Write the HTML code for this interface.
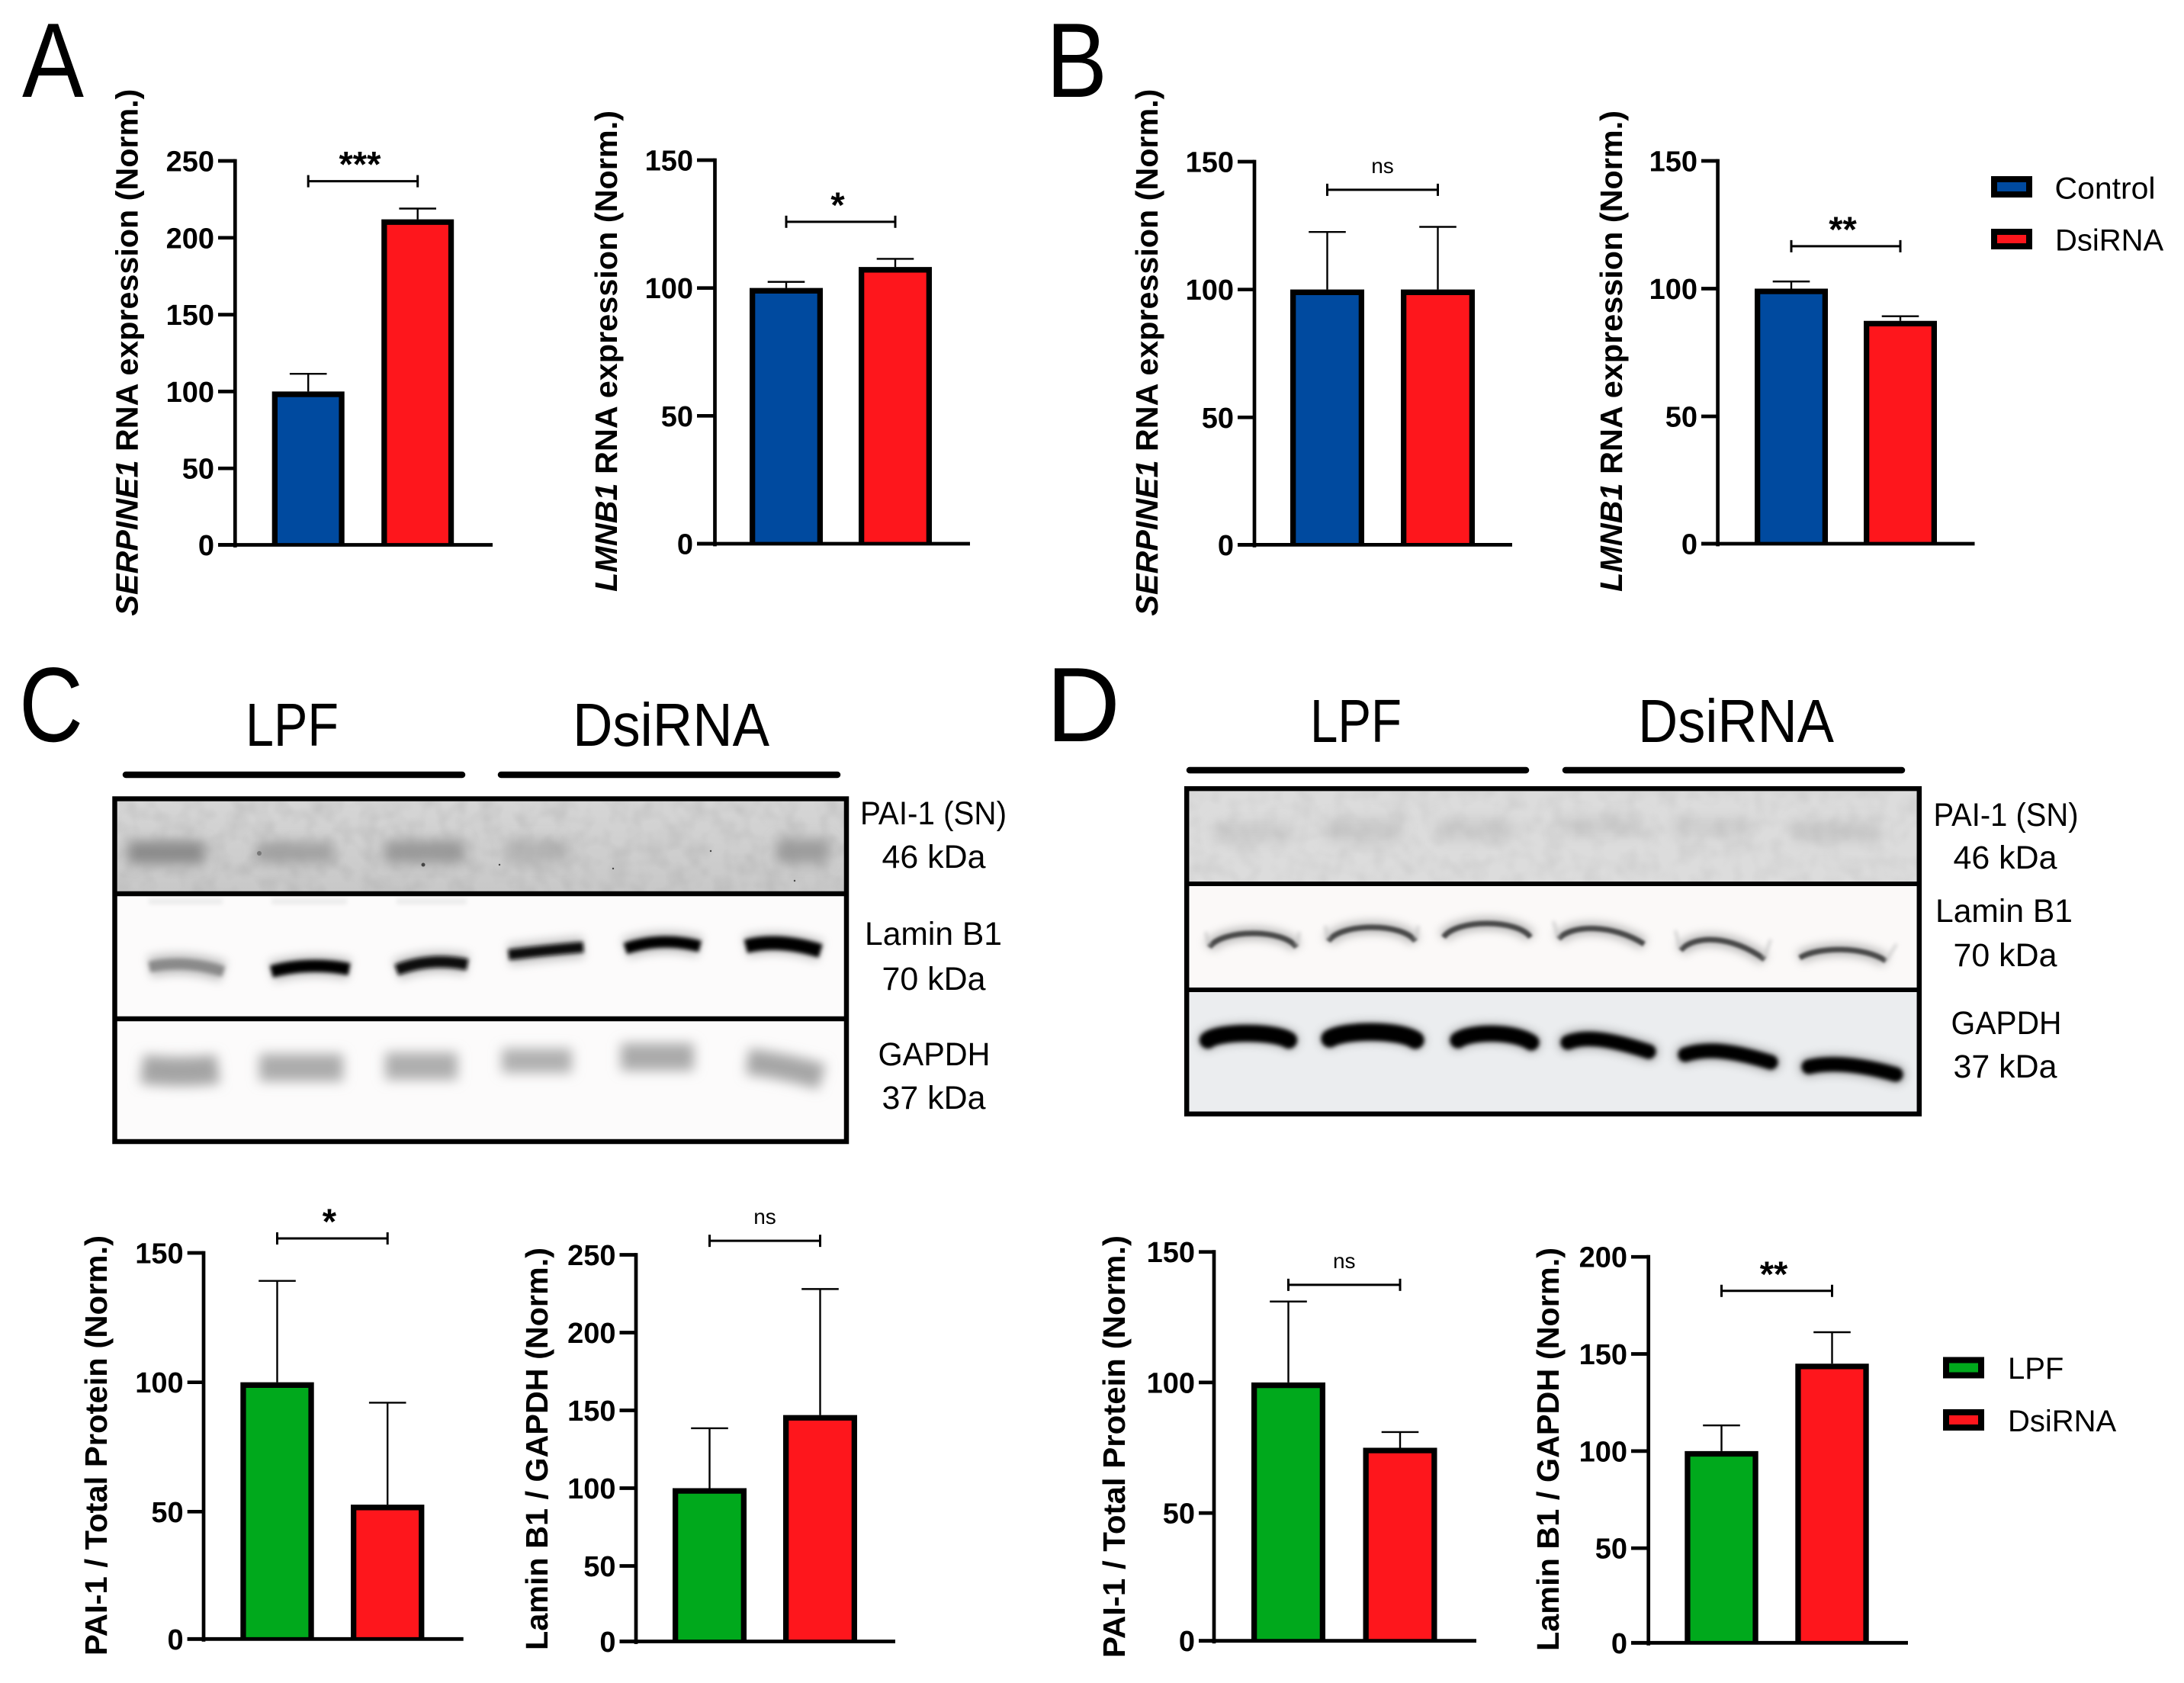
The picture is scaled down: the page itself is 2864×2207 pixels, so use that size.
<!DOCTYPE html>
<html lang="en">
<head>
<meta charset="utf-8">
<title>SERPINE1 and Lamin B1 expression figure</title>
<style>
html,body{margin:0;padding:0;background:#fff;}
svg{display:block;font-family:"Liberation Sans",Arial,sans-serif;}
.ttl{font-weight:bold;font-size:41px;fill:#000;}
.lbl{font-size:43px;fill:#000;text-anchor:middle;}
.grp{font-size:80px;fill:#000;}
.ltr{font-size:139px;fill:#000;}
.leg{font-size:40px;fill:#000;}
</style>
</head>
<body>
<svg id="figure" xmlns="http://www.w3.org/2000/svg" width="2864" height="2207" viewBox="0 0 2864 2207">
<defs>
<filter id="b1" filterUnits="userSpaceOnUse" x="0" y="1000" width="2864" height="520"><feGaussianBlur stdDeviation="1.6"/></filter>
<filter id="b2" filterUnits="userSpaceOnUse" x="0" y="1000" width="2864" height="520"><feGaussianBlur stdDeviation="2.6"/></filter>
<filter id="b6" filterUnits="userSpaceOnUse" x="0" y="1000" width="2864" height="520"><feGaussianBlur stdDeviation="6"/></filter>
<filter id="b8" filterUnits="userSpaceOnUse" x="0" y="1000" width="2864" height="520"><feGaussianBlur stdDeviation="8"/></filter>
<filter id="mottle" x="0" y="0" width="100%" height="100%"><feTurbulence type="fractalNoise" baseFrequency="0.04" numOctaves="2" seed="3"/><feColorMatrix type="matrix" values="0 0 0 0 0.3  0 0 0 0 0.3  0 0 0 0 0.3  1.2 0 0 0 -0.45"/></filter>
<linearGradient id="paiC" x1="0" y1="0" x2="0" y2="1"><stop offset="0" stop-color="#d6d6d6"/><stop offset="1" stop-color="#c8c8c8"/></linearGradient>
</defs>
<rect width="2864" height="2207" fill="#fff"/>

<text class="ltr" x="29" y="127" textLength="81" lengthAdjust="spacingAndGlyphs">A</text>
<text class="ltr" x="1372" y="127" textLength="80" lengthAdjust="spacingAndGlyphs">B</text>
<text class="ltr" x="25" y="972" textLength="84" lengthAdjust="spacingAndGlyphs">C</text>
<text class="ltr" x="1372" y="972" textLength="97" lengthAdjust="spacingAndGlyphs">D</text>

<text class="ttl" transform="translate(180.7 807.6) rotate(-90)" textLength="691" lengthAdjust="spacingAndGlyphs"><tspan font-style="italic">SERPINE1</tspan> RNA expression (Norm.)</text>
<text class="ttl" transform="translate(809 776) rotate(-90)" textLength="631" lengthAdjust="spacingAndGlyphs"><tspan font-style="italic">LMNB1</tspan> RNA expression (Norm.)</text>
<text class="ttl" transform="translate(1518 807.6) rotate(-90)" textLength="691" lengthAdjust="spacingAndGlyphs"><tspan font-style="italic">SERPINE1</tspan> RNA expression (Norm.)</text>
<text class="ttl" transform="translate(2127 776) rotate(-90)" textLength="631" lengthAdjust="spacingAndGlyphs"><tspan font-style="italic">LMNB1</tspan> RNA expression (Norm.)</text>
<text class="ttl" transform="translate(140 2171) rotate(-90)" textLength="551" lengthAdjust="spacingAndGlyphs">PAI-1 / Total Protein (Norm.)</text>
<text class="ttl" transform="translate(718 2164) rotate(-90)" textLength="528" lengthAdjust="spacingAndGlyphs">Lamin B1 / GAPDH (Norm.)</text>
<text class="ttl" transform="translate(1475 2174) rotate(-90)" textLength="554" lengthAdjust="spacingAndGlyphs">PAI-1 / Total Protein (Norm.)</text>
<text class="ttl" transform="translate(2044 2165) rotate(-90)" textLength="529" lengthAdjust="spacingAndGlyphs">Lamin B1 / GAPDH (Norm.)</text>

<g>
<rect x="2615" y="235" width="46" height="20" fill="#004a9f" stroke="#000" stroke-width="8"/>
<text class="leg" x="2694.5" y="260.5" textLength="132" lengthAdjust="spacingAndGlyphs">Control</text>
<rect x="2615" y="304" width="46" height="19" fill="#fe161c" stroke="#000" stroke-width="8"/>
<text class="leg" x="2695" y="328.3">DsiRNA</text>
</g>
<g>
<rect x="2552" y="1783.5" width="46" height="20" fill="#00a91c" stroke="#000" stroke-width="8"/>
<text class="leg" x="2633" y="1808">LPF</text>
<rect x="2552" y="1852" width="46" height="20" fill="#fe161c" stroke="#000" stroke-width="8"/>
<text class="leg" x="2633" y="1877">DsiRNA</text>
</g>

<g>
<text class="grp" x="322" y="978" textLength="122" lengthAdjust="spacingAndGlyphs">LPF</text>
<text class="grp" x="751" y="978" textLength="258" lengthAdjust="spacingAndGlyphs">DsiRNA</text>
<line x1="165" y1="1016" x2="606" y2="1016" stroke="#000" stroke-width="8.5" stroke-linecap="round"/>
<line x1="657" y1="1016" x2="1098" y2="1016" stroke="#000" stroke-width="8.5" stroke-linecap="round"/>
<rect x="154" y="1051" width="953" height="118" fill="url(#paiC)"/>
<rect x="154" y="1175" width="953" height="158" fill="#fcfbfb"/>
<rect x="154" y="1339" width="953" height="155" fill="#fcfbfb"/>
<g filter="url(#b8)" fill="none">
<path d="M168 1118H268" stroke="#8a8a8a" stroke-width="30"/>
<path d="M336 1118H436" stroke="#a2a2a2" stroke-width="28"/>
<path d="M504 1117H610" stroke="#9a9a9a" stroke-width="30"/>
<path d="M664 1116H746" stroke="#b4b4b4" stroke-width="30"/>
<path d="M1018 1116H1086" stroke="#9c9c9c" stroke-width="32"/>
</g>
<rect x="154" y="1051" width="953" height="118" filter="url(#mottle)" opacity=".4"/>
<g fill="#444">
<circle cx="555" cy="1134" r="2.5"/><circle cx="340" cy="1119" r="3" fill="#777"/><circle cx="655" cy="1134" r="1.2"/><circle cx="804" cy="1139" r="1.2"/><circle cx="932" cy="1116" r="1.2"/><circle cx="1042" cy="1155" r="1.2"/>
</g>
<g filter="url(#b2)" stroke="#ececec" stroke-width="8" fill="none">
<path d="M195 1182H292"/><path d="M356 1182H455"/><path d="M520 1182H612"/>
</g>
<g filter="url(#b6)" fill="none" stroke="#8a8a8a" stroke-width="28" opacity=".5">
<path d="M196 1268Q243 1258 293 1274"/><path d="M356 1274Q406 1261 458 1271"/><path d="M520 1272Q565 1255 613 1265"/><path d="M667 1252Q716 1246 765 1242"/><path d="M820 1244Q868 1228 918 1241"/><path d="M978 1241Q1020 1230 1076 1247"/>
</g>
<g filter="url(#b2)" fill="none">
<path d="M196 1268Q243 1258 293 1274" stroke="#8a8a8a" stroke-width="14"/>
<path d="M356 1274Q406 1261 458 1271" stroke="#060606" stroke-width="16"/>
<path d="M520 1272Q565 1255 613 1265" stroke="#0c0c0c" stroke-width="15"/>
<path d="M667 1252Q716 1246 765 1242" stroke="#0c0c0c" stroke-width="14"/>
<path d="M820 1244Q868 1228 918 1241" stroke="#060606" stroke-width="15"/>
<path d="M978 1241Q1020 1230 1076 1247" stroke="#000" stroke-width="18"/>
</g>
<g filter="url(#b8)" fill="none">
<path d="M186 1402Q237 1408 286 1402" stroke="#a4a4a4" stroke-width="38"/>
<path d="M340 1400H450" stroke="#acacac" stroke-width="36"/>
<path d="M505 1398H600" stroke="#aeaeae" stroke-width="36"/>
<path d="M658 1391H750" stroke="#b0b0b0" stroke-width="32"/>
<path d="M814 1386H910" stroke="#aaaaaa" stroke-width="36"/>
<path d="M980 1392Q1030 1398 1078 1412" stroke="#a6a6a6" stroke-width="34"/>
</g>
<rect x="150.5" y="1047.5" width="959.5" height="449.5" fill="none" stroke="#000" stroke-width="6.5"/>
<line x1="150" y1="1172" x2="1110" y2="1172" stroke="#000" stroke-width="6.5"/>
<line x1="150" y1="1336" x2="1110" y2="1336" stroke="#000" stroke-width="6.5"/>
<text class="lbl" x="1224" y="1081" textLength="192" lengthAdjust="spacingAndGlyphs">PAI-1 (SN)</text>
<text class="lbl" x="1224.5" y="1138" textLength="136" lengthAdjust="spacingAndGlyphs">46 kDa</text>
<text class="lbl" x="1224" y="1239" textLength="180" lengthAdjust="spacingAndGlyphs">Lamin B1</text>
<text class="lbl" x="1224.5" y="1298" textLength="136" lengthAdjust="spacingAndGlyphs">70 kDa</text>
<text class="lbl" x="1225" y="1397" textLength="147" lengthAdjust="spacingAndGlyphs">GAPDH</text>
<text class="lbl" x="1224.5" y="1454" textLength="136" lengthAdjust="spacingAndGlyphs">37 kDa</text>
</g>

<g>
<text class="grp" x="1718" y="973" textLength="120" lengthAdjust="spacingAndGlyphs">LPF</text>
<text class="grp" x="2148" y="973" textLength="257" lengthAdjust="spacingAndGlyphs">DsiRNA</text>
<line x1="1560" y1="1010" x2="2001" y2="1010" stroke="#000" stroke-width="8.5" stroke-linecap="round"/>
<line x1="2053" y1="1010" x2="2494" y2="1010" stroke="#000" stroke-width="8.5" stroke-linecap="round"/>
<rect x="1559" y="1038" width="955" height="118" fill="#dcdcdc"/>
<rect x="1559" y="1162" width="955" height="133" fill="#fbf9f8"/>
<rect x="1559" y="1301" width="955" height="157" fill="#ebedef"/>
<g filter="url(#b8)" fill="none">
<path d="M1592 1092H1695" stroke="#cccccc" stroke-width="26"/>
<path d="M1738 1088H1840" stroke="#cacaca" stroke-width="30"/>
<path d="M1885 1088H1985" stroke="#cccccc" stroke-width="28"/>
<path d="M2042 1083H2155" stroke="#cccccc" stroke-width="24"/>
<path d="M2192 1085H2296" stroke="#cecece" stroke-width="24"/>
<path d="M2352 1090H2462" stroke="#c7c7c7" stroke-width="26"/>
</g>
<rect x="1559" y="1038" width="955" height="118" filter="url(#mottle)" opacity=".25"/>
<g filter="url(#b6)" fill="none" stroke="#8a8a8a" stroke-width="16" opacity=".6">
<path d="M1586 1242C1603 1218 1683 1218 1700 1242"/><path d="M1742 1234C1759 1210 1839 1210 1856 1234"/><path d="M1893 1229C1910 1205 1990 1205 2007 1229"/><path d="M2044 1231C2062 1212 2115 1212 2156 1238"/><path d="M2204 1246C2222 1226 2270 1226 2314 1258"/><path d="M2360 1256C2385 1241 2445 1241 2473 1260"/>
</g>
<g filter="url(#b1)" fill="none" stroke="#4a4a4a" stroke-width="7">
<path d="M1586 1242C1603 1218 1683 1218 1700 1242"/><path d="M1742 1234C1759 1210 1839 1210 1856 1234"/><path d="M1893 1229C1910 1205 1990 1205 2007 1229"/><path d="M2044 1231C2062 1212 2115 1212 2156 1238"/><path d="M2204 1246C2222 1226 2270 1226 2314 1258"/><path d="M2360 1256C2385 1241 2445 1241 2473 1260"/>
</g>
<g filter="url(#b2)" fill="none" stroke="#c4c4c4" stroke-width="3">
<path d="M1586 1240L1581 1222"/><path d="M1700 1240L1704 1222"/><path d="M1742 1232L1738 1214"/><path d="M1856 1232L1860 1214"/><path d="M2044 1230L2037 1208"/><path d="M2203 1243L2197 1220"/><path d="M2313 1257L2322 1232"/><path d="M2473 1260L2487 1238"/>
</g>
<g filter="url(#b6)" fill="none" stroke="#555" stroke-width="26" stroke-linecap="round" opacity=".45">
<path d="M1584 1364C1600 1352 1670 1352 1690 1364"/>
<path d="M1744 1362C1765 1350 1835 1350 1856 1364"/>
<path d="M1912 1364C1930 1352 1985 1352 2008 1367"/>
<path d="M2056 1367C2078 1358 2110 1362 2162 1379"/>
<path d="M2210 1383C2238 1374 2270 1377 2322 1393"/>
<path d="M2372 1399C2402 1392 2440 1396 2486 1409"/>
</g>
<g filter="url(#b2)" fill="none" stroke="#000" stroke-linecap="round">
<path d="M1584 1364C1600 1352 1670 1352 1690 1364" stroke-width="22"/>
<path d="M1744 1362C1765 1350 1835 1350 1856 1364" stroke-width="23"/>
<path d="M1912 1364C1930 1352 1985 1352 2008 1367" stroke-width="21"/>
<path d="M2056 1367C2078 1358 2110 1362 2162 1379" stroke-width="19"/>
<path d="M2210 1383C2238 1374 2270 1377 2322 1393" stroke-width="19"/>
<path d="M2372 1399C2402 1392 2440 1396 2486 1409" stroke-width="19"/>
</g>
<rect x="1556.2" y="1034.2" width="960.6" height="426.6" fill="none" stroke="#000" stroke-width="6.5"/>
<line x1="1556" y1="1159" x2="2517" y2="1159" stroke="#000" stroke-width="6"/>
<line x1="1556" y1="1298" x2="2517" y2="1298" stroke="#000" stroke-width="6"/>
<text class="lbl" x="2630.5" y="1083" textLength="190" lengthAdjust="spacingAndGlyphs">PAI-1 (SN)</text>
<text class="lbl" x="2629.5" y="1139" textLength="136" lengthAdjust="spacingAndGlyphs">46 kDa</text>
<text class="lbl" x="2628" y="1209" textLength="180" lengthAdjust="spacingAndGlyphs">Lamin B1</text>
<text class="lbl" x="2629.5" y="1267" textLength="136" lengthAdjust="spacingAndGlyphs">70 kDa</text>
<text class="lbl" x="2631" y="1356" textLength="145" lengthAdjust="spacingAndGlyphs">GAPDH</text>
<text class="lbl" x="2629.5" y="1413" textLength="136" lengthAdjust="spacingAndGlyphs">37 kDa</text>
</g>

<g id="charts"></g>
</svg>
<script>
// Chart data
const ticks150 = [0, 50, 100, 150];
const ticks200 = [0, 50, 100, 150, 200];
const ticks250 = [0, 50, 100, 150, 200, 250];

const serpineAValues = [100, 212];
const serpineAErrors = [11.5, 7];
const lmnbAValues = [100, 108.2];
const lmnbAErrors = [2.4, 3.2];
const serpineBValues = [100, 100];
const serpineBErrors = [22.5, 24.5];
const lmnbBValues = [100, 87.4];
const lmnbBErrors = [2.8, 1.8];
const paiCValues = [100, 52.7];
const paiCErrors = [39.2, 39.4];
const laminCValues = [100, 147];
const laminCErrors = [38.5, 81];
const paiDValues = [100, 75];
const paiDErrors = [31, 6];
const laminDValues = [100, 145];
const laminDErrors = [13.2, 16.2];

const blueRed = ['#004a9f', '#fe161c'];
const greenRed = ['#00a91c', '#fe161c'];
const SVGNS = 'http://www.w3.org/2000/svg';
const chartsRoot = document.getElementById('charts');

function makeLine(parent, x1, y1, x2, y2, w) {
  const el = document.createElementNS(SVGNS, 'line');
  el.setAttribute('x1', x1);
  el.setAttribute('y1', y1);
  el.setAttribute('x2', x2);
  el.setAttribute('y2', y2);
  el.setAttribute('stroke', '#000');
  el.setAttribute('stroke-width', w);
  parent.appendChild(el);
  return el;
}

function drawChart(c) {
  const yScale = v => c.y0 - (v / c.max) * (c.y0 - c.yTop);
  const xLeft = i => c.barStart + i * c.barStep;
  const xMid = i => xLeft(i) + c.barWidth / 2;
  const stroke = 7.3;

  const g = document.createElementNS(SVGNS, 'g');
  
  
  chartsRoot.appendChild(g);

  c.values.forEach((v, i) => {
    const mid = xMid(i);
    const tip = yScale(v + c.errors[i]);
    const stem = makeLine(g, mid, yScale(v), mid, tip, 2.4);
    
    
    const cap = makeLine(g, mid - 24.3, tip, mid + 24.3, tip, 2.4);
    
    

    // Three-sided outline: the x-axis line closes the bottom of the bar
    const left = xLeft(i) + stroke / 2;
    const right = xLeft(i) + c.barWidth - stroke / 2;
    const top = yScale(v) + stroke / 2;
    const bar = document.createElementNS(SVGNS, 'path');
    bar.setAttribute('d', 'M' + left + ' ' + c.zeroY + 'V' + top + 'H' + right + 'V' + c.zeroY);
    bar.setAttribute('fill', c.colors[i]);
    bar.setAttribute('stroke', '#000');
    bar.setAttribute('stroke-width', stroke);
    
    
    g.appendChild(bar);
  });

  const axisLine = makeLine(g, c.axisX, c.yTop - 2.4, c.axisX, c.zeroY + 3.4, 4.7);
  
  
  const baseLine = makeLine(g, c.tickStart, c.zeroY, c.baseEnd, c.zeroY, 4.8);
  
  

  c.ticks.forEach(t => {
    const ty = t === 0 ? c.zeroY : yScale(t);
    const tick = makeLine(g, c.tickStart, ty, c.axisX, ty, 4.7);
    
    
    const label = document.createElementNS(SVGNS, 'text');
    label.setAttribute('x', c.tickStart - 5);
    label.setAttribute('y', ty + 13.5);
    label.setAttribute('text-anchor', 'end');
    label.setAttribute('font-size', 38);
    label.setAttribute('font-weight', 'bold');
    
    
    label.textContent = String(t);
    g.appendChild(label);
  });

  const by = yScale(c.bracketAt);
  const bracket = makeLine(g, xMid(0), by, xMid(1), by, 3);
  
  
  [xMid(0), xMid(1)].forEach(bx => {
    const end = makeLine(g, bx, by - 8, bx, by + 8, 3);
    
    
  });
  const sig = document.createElementNS(SVGNS, 'text');
  const isNs = c.sig === 'ns';
  sig.setAttribute('x', (xMid(0) + xMid(1)) / 2 - (isNs ? 0 : 4));
  sig.setAttribute('y', isNs ? by - 22 : by - 6);
  sig.setAttribute('text-anchor', 'middle');
  sig.setAttribute('font-size', isNs ? 28 : 47);
  sig.setAttribute('font-weight', isNs ? 'normal' : 'bold');
  
  
  sig.textContent = c.sig;
  g.appendChild(sig);
}

drawChart({values: serpineAValues, errors: serpineAErrors, ticks: ticks250, max: 250, colors: blueRed, sig: '***',
  axisX: 308.3, y0: 715, zeroY: 714.5, yTop: 211, tickStart: 286, baseEnd: 646, barStart: 356.7, barWidth: 95, barStep: 143.5, bracketAt: 236.8});
drawChart({values: lmnbAValues, errors: lmnbAErrors, ticks: ticks150, max: 150, colors: blueRed, sig: '*',
  axisX: 937.5, y0: 713, zeroY: 713, yTop: 210, tickStart: 914, baseEnd: 1272, barStart: 983, barWidth: 96, barStep: 143, bracketAt: 125.9});
drawChart({values: serpineBValues, errors: serpineBErrors, ticks: ticks150, max: 150, colors: blueRed, sig: 'ns',
  axisX: 1645, y0: 715, zeroY: 714.4, yTop: 212, tickStart: 1623, baseEnd: 1983, barStart: 1692, barWidth: 97, barStep: 145, bracketAt: 139});
drawChart({values: lmnbBValues, errors: lmnbBErrors, ticks: ticks150, max: 150, colors: blueRed, sig: '**',
  axisX: 2252.6, y0: 713.5, zeroY: 713, yTop: 211, tickStart: 2231, baseEnd: 2589.5, barStart: 2301, barWidth: 96, barStep: 143, bracketAt: 116.6});
drawChart({values: paiCValues, errors: paiCErrors, ticks: ticks150, max: 150, colors: greenRed, sig: '*',
  axisX: 267, y0: 2152, zeroY: 2149.3, yTop: 1643, tickStart: 245.7, baseEnd: 607.7, barStart: 315.3, barWidth: 96.4, barStep: 144.7, bracketAt: 155.6});
drawChart({values: laminCValues, errors: laminCErrors, ticks: ticks250, max: 250, colors: greenRed, sig: 'ns',
  axisX: 834, y0: 2155.5, zeroY: 2152.5, yTop: 1645.5, tickStart: 812.5, baseEnd: 1174, barStart: 882, barWidth: 97, barStep: 145, bracketAt: 259});
drawChart({values: paiDValues, errors: paiDErrors, ticks: ticks150, max: 150, colors: greenRed, sig: 'ns',
  axisX: 1592, y0: 2155.3, zeroY: 2151.7, yTop: 1641.7, tickStart: 1572, baseEnd: 1936, barStart: 1641, barWidth: 97, barStep: 146.5, bracketAt: 137.4});
drawChart({values: laminDValues, errors: laminDErrors, ticks: ticks200, max: 200, colors: greenRed, sig: '**',
  axisX: 2161.7, y0: 2157.5, zeroY: 2154.3, yTop: 1648.2, tickStart: 2139, baseEnd: 2502, barStart: 2209.3, barWidth: 96.4, barStep: 145, bracketAt: 182.5});
</script>
</body>
</html>
